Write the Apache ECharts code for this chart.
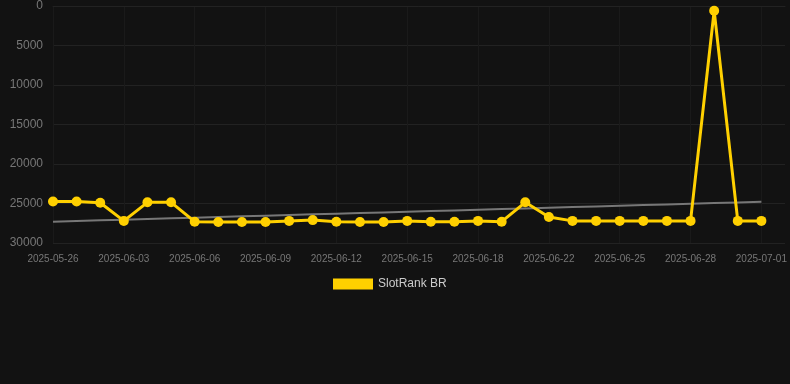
<!DOCTYPE html>
<html><head><meta charset="utf-8">
<script src="https://cdn.jsdelivr.net/npm/echarts@6/dist/echarts.min.js"></script>
<style>html,body{margin:0;padding:0;background:#121212;}#c{width:790px;height:384px;}</style>
</head><body><div id="c"></div>
<script>
const categories = ['2025-05-26','2025-05-30','2025-06-01','2025-06-03','2025-06-04','2025-06-05','2025-06-06','2025-06-07','2025-06-08','2025-06-09','2025-06-10','2025-06-11','2025-06-12','2025-06-13','2025-06-14','2025-06-15','2025-06-16','2025-06-17','2025-06-18','2025-06-19','2025-06-21','2025-06-22','2025-06-23','2025-06-24','2025-06-25','2025-06-26','2025-06-27','2025-06-28','2025-06-29','2025-06-30','2025-07-01','2025-07-02'];
const rankValues = [24750,24750,24900,27200,24850,24850,27300,27350,27350,27350,27200,27100,27300,27350,27350,27200,27300,27300,27200,27300,24850,26700,27200,27200,27200,27200,27200,27200,600,27200,27200,null];
const trendStart = 27300;
const trendEnd = 24780;
const yTicks = [0, 5000, 10000, 15000, 20000, 25000, 30000];

const n = 31;
const trend = categories.map((c, i) => i < n ? trendStart + (trendEnd - trendStart) * i / (n - 1) : null);

const chart = echarts.init(document.getElementById('c'), null, {renderer: 'canvas'});
chart.setOption({
  backgroundColor: '#121212',
  animation: false,
  grid: {left: 53, right: 5, top: 6, bottom: 141},
  legend: {
    data: [{name: 'SlotRank BR', icon: 'rect'}],
    left: 328, top: 273,
    itemWidth: 40, itemHeight: 11,
    textStyle: {color: '#cccccc', fontSize: 12, fontFamily: 'Arial, Liberation Sans, sans-serif'}
  },
  xAxis: {
    type: 'category', data: categories, boundaryGap: false,
    axisLine: {show: true, lineStyle: {color: '#222'}},
    axisTick: {show: false},
    axisLabel: {color: '#777', fontSize: 10, interval: 2, margin: 11, fontFamily: 'Arial, Liberation Sans, sans-serif'},
    splitLine: {show: true, interval: 2, lineStyle: {color: '#1a1a1a', width: 1}}
  },
  yAxis: {
    type: 'value', inverse: true, min: yTicks[0], max: yTicks[yTicks.length - 1], interval: 5000,
    axisLine: {show: false}, axisTick: {show: false},
    axisLabel: {color: '#777', fontSize: 12, margin: 10, formatter: v => String(v), fontFamily: 'Arial, Liberation Sans, sans-serif'},
    splitLine: {lineStyle: {color: '#222', width: 1}}
  },
  series: [
    {
      name: 'SlotRank BR', type: 'line', data: rankValues,
      symbol: 'circle', symbolSize: 10, z: 3,
      lineStyle: {color: '#FFD000', width: 3},
      itemStyle: {color: '#FFD000'}
    },
    {
      name: 'Trend', type: 'line', data: trend, symbol: 'none', z: 2,
      lineStyle: {color: '#777', width: 2}
    }
  ]
});
</script></body></html>
